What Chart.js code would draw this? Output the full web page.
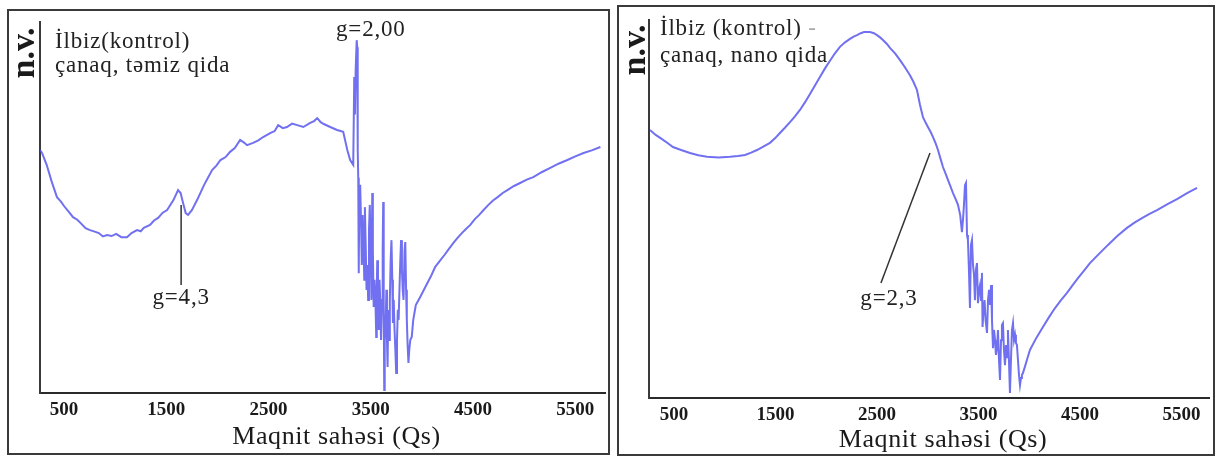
<!DOCTYPE html>
<html>
<head>
<meta charset="utf-8">
<script src="https://cdn.jsdelivr.net/npm/chart.js@4.4.1/dist/chart.umd.min.js"></script>
<style>
  html, body { margin: 0; padding: 0; background: #ffffff; }
  body { width: 1219px; height: 457px; position: relative; overflow: hidden; }
  .frame { position: absolute; border: 2px solid #3a3a3a; box-sizing: border-box; }
  .holder { position: absolute; }
</style>
</head>
<body>
<div class="frame" style="left:7px; top:9px; width:603px; height:446px;"></div>
<div class="frame" style="left:617px; top:5px; width:598px; height:451px;"></div>
<div class="holder" style="left:0px; top:0px; width:612px; height:457px;"><canvas id="c1"></canvas></div>
<div class="holder" style="left:612px; top:0px; width:607px; height:457px;"><canvas id="c2"></canvas></div>
<script>
// ---------- data (magnetic field in Qs, signal in relative units) ----------
const tickValues = [500, 1500, 2500, 3500, 4500, 5500];
const xTitle = 'Maqnit sahəsi (Qs)';
const yTitle = 'n.v.';

// Left: İlbiz (kontrol) – çanaq, təmiz qida
const leftField = [265, 285, 330, 380, 431, 470, 500, 545, 588, 630, 670, 710, 754, 800, 840, 880, 921, 965, 1010, 1060, 1116, 1160, 1214, 1250, 1280, 1341, 1380, 1420, 1465, 1508, 1570, 1615, 1640, 1664, 1690, 1713, 1750, 1801, 1870, 1948, 1990, 2030, 2080, 2124, 2170, 2222, 2260, 2290, 2349, 2400, 2447, 2520, 2560, 2594, 2640, 2680, 2730, 2780, 2840, 2907, 2945, 2976, 3010, 3040, 3103, 3170, 3230, 3270, 3298, 3328,
  3338, 3345, 3352, 3362, 3367, 3372, 3377, 3382, 3387, 3396, 3405, 3412, 3420, 3428, 3436, 3442, 3450, 3458, 3466, 3474, 3482, 3490, 3498, 3506, 3514, 3520, 3528, 3536, 3545, 3553, 3558, 3563, 3570, 3578, 3585, 3592, 3600, 3610, 3616, 3621, 3626, 3631, 3636, 3645, 3652, 3658, 3664, 3670, 3678, 3686, 3694, 3702, 3710, 3716, 3724, 3732, 3740, 3748, 3756, 3764, 3772, 3780, 3788, 3796, 3804, 3812, 3820, 3830, 3837, 3845, 3852, 3860, 3868, 3876, 3886, 3900, 3915, 3940, 3983,
  4052, 4090, 4130, 4175, 4220, 4262, 4306, 4348, 4390, 4430, 4473, 4515, 4560, 4605, 4650, 4695, 4740, 4790, 4835, 4900, 4960, 5025, 5089, 5170, 5250, 5335, 5422, 5500, 5580, 5660, 5745];
const leftSignal = [65.5, 64.7, 61.5, 56.9, 52.8, 51.6, 50.4, 48.9, 47.4, 46.7, 45.6, 44.4, 43.9, 43.5, 43.1, 42.2, 42.6, 42.3, 42.9, 42.0, 42.0, 43.1, 43.9, 43.6, 44.5, 45.3, 46.5, 47.2, 48.6, 49.3, 52.0, 54.7, 53.9, 51.2, 48.5, 48.0, 49.3, 52.0, 56.1, 60.1, 61.3, 62.8, 63.6, 65.0, 66.0, 68.2, 67.5, 66.8, 67.4, 68.1, 69.0, 70.1, 70.6, 72.2, 71.4, 71.7, 72.6, 72.2, 71.7, 72.8, 73.3, 74.1, 73.0, 72.5, 71.7, 70.9, 70.4, 65.5, 62.8, 61.5,
  85.2, 75.1, 87.3, 95.1, 93.2, 65.5, 58.0, 32.3, 52.0, 56.1, 45.3, 34.5, 48.0, 41.2, 30.5, 50.1, 39.9, 27.8, 34.5, 25.1, 43.9, 50.7, 38.5, 25.1, 53.9, 38.5, 23.2, 30.5, 25.1, 15.1, 27.8, 35.8, 25.1, 17.0, 30.5, 25.1, 14.3, 25.1, 38.5, 51.5, 25.1, 0.8, 14.3, 18.3, 27.8, 14.3, 7.0, 22.4, 14.3, 25.1, 35.8, 41.2, 30.5, 18.9, 25.1, 17.0, 11.6, 5.4, 14.3, 22.4, 19.7, 27.8, 35.3, 41.2, 33.2, 27.8, 25.1, 38.5, 40.7, 27.8, 19.7, 12.9, 8.1, 11.6, 14.3, 15.1, 19.7, 23.7, 25.9,
  29.6, 31.6, 34.0, 35.6, 37.2, 38.8, 40.4, 41.8, 43.1, 44.2, 45.3, 46.8, 48.0, 49.4, 50.7, 51.9, 52.8, 53.9, 54.7, 55.8, 56.6, 57.5, 58.2, 59.5, 60.6, 61.8, 62.8, 63.8, 64.7, 65.4, 66.3];

// Right: İlbiz (kontrol) – çanaq, nano qida
const rightField = [264, 320, 382, 440, 490, 570, 658, 740, 825, 940, 1052, 1130, 1200, 1260, 1318, 1380, 1446, 1495, 1544, 1593, 1643, 1692, 1741, 1790, 1840, 1889, 1938, 1988, 2037, 2086, 2135, 2185, 2234, 2270, 2303, 2340, 2372, 2431, 2470, 2500, 2530, 2559, 2600, 2628, 2680, 2727, 2775, 2825, 2860, 2894, 2924, 2953, 2980, 3002, 3030, 3052, 3080, 3101, 3125, 3150, 3175, 3199, 3225, 3249, 3275, 3298,
  3320, 3337, 3347, 3357, 3367, 3377, 3387, 3396, 3406, 3416, 3426, 3436, 3446, 3456, 3465, 3475, 3485, 3495, 3505, 3515, 3525, 3534, 3540, 3550, 3560, 3570, 3584, 3594, 3604, 3614, 3624, 3633, 3643, 3653, 3663, 3672, 3682, 3692, 3702, 3712, 3722, 3731, 3741, 3751, 3761, 3771, 3781, 3790, 3800, 3810, 3820, 3830, 3840, 3850, 3860, 3869, 3879, 3889, 3899, 3909, 3919, 3928, 3938, 3960, 3985,
  4007, 4070, 4135, 4195, 4254, 4313, 4372, 4426, 4480, 4540, 4598, 4690, 4776, 4870, 4963, 5037, 5111, 5185, 5259, 5358, 5456, 5555, 5653];
const rightSignal = [70.9, 69.6, 68.5, 67.4, 66.4, 65.6, 64.8, 64.2, 63.8, 63.6, 63.8, 64.0, 64.3, 64.9, 65.6, 66.5, 67.5, 68.7, 70.1, 71.5, 73.0, 74.5, 76.2, 78.2, 80.4, 82.7, 84.9, 87.2, 89.2, 91.2, 92.9, 94.1, 95.0, 95.6, 96.0, 96.5, 96.8, 96.8, 96.5, 96.0, 95.4, 94.7, 93.6, 92.6, 91.1, 89.4, 87.5, 85.4, 83.6, 81.5, 77.5, 74.3, 72.8, 71.7, 70.3, 69.0, 67.2, 65.6, 63.4, 61.1, 59.4, 57.7, 55.9, 54.2, 52.6, 51.1,
  48.4, 43.9, 47.1, 51.1, 56.3, 56.9, 43.1, 41.8, 33.9, 23.8, 40.5, 41.8, 35.2, 32.5, 25.9, 33.9, 35.7, 25.1, 28.6, 29.9, 25.9, 33.1, 18.8, 23.3, 25.9, 20.6, 17.2, 25.9, 28.6, 24.6, 29.9, 20.6, 13.2, 18.0, 15.3, 11.4, 13.2, 18.0, 10.1, 4.8, 15.3, 19.3, 19.8, 12.7, 8.7, 14.0, 10.8, 18.0, 10.1, 1.3, 10.1, 18.0, 19.8, 15.3, 16.7, 14.6, 14.0, 10.1, 6.1, 3.4, 5.3, 6.1, 6.6, 8.5, 10.8,
  12.7, 15.9, 18.8, 21.4, 23.8, 25.9, 27.8, 29.8, 31.7, 33.7, 35.7, 38.2, 40.5, 42.9, 45.0, 46.4, 47.6, 48.7, 49.7, 51.2, 52.6, 54.2, 55.6];

// leader lines for g-factor labels
const leftLeaderField = [1645, 1645];
const leftLeaderSignal = [50.7, 29.1];
const rightLeaderField = [3022, 2539];
const rightLeaderSignal = [64.8, 30.4];

// text annotations [text, field, signal, align]
const leftNotes = [
  ['İlbiz(kontrol)', 412, 93.0, 'left'],
  ['çanaq, təmiz qida', 412, 86.5, 'left'],
  ['g=2,00', 3500, 96.2, 'center'],
  ['g=4,3', 1645, 24.0, 'center']
];
const rightNotes = [
  ['İlbiz (kontrol)', 362, 96.0, 'left'],
  ['çanaq, nano qida', 362, 88.9, 'left'],
  ['g=2,3', 2618, 24.5, 'center']
];

// ---------- rendering ----------
const SERIF = '"Liberation Serif", "Times New Roman", serif';
const lineColor = 'rgba(80, 80, 238, 0.82)';

function pts(xs, ys) { return xs.map((x, i) => ({ x: x, y: ys[i] })); }

const notesPlugin = {
  id: 'notes',
  afterDatasetsDraw(chart, args, opts) {
    const ctx = chart.ctx;
    const xs = chart.scales.x, ys = chart.scales.y;
    const ca = chart.chartArea;
    ctx.save();
    ctx.fillStyle = '#222';
    ctx.font = opts.fontSize + 'px ' + SERIF;
    ctx.letterSpacing = '0.8px';
    ctx.textBaseline = 'alphabetic';
    opts.notes.forEach(n => {
      ctx.textAlign = n[3];
      const px = xs.getPixelForValue(n[1]);
      const py = ys.getPixelForValue(n[2]);
      ctx.fillText(n[0], px, py);
      if (opts.dash && n[0] === 'İlbiz (kontrol)') {
        const w = ctx.measureText(n[0]).width;
        ctx.fillStyle = '#aaa';
        ctx.fillText(' -', px + w, py);
        ctx.fillStyle = '#222';
      }
    });
    // x-axis title
    ctx.font = '26px ' + SERIF;
    ctx.letterSpacing = '0.6px';
    ctx.textAlign = 'center';
    ctx.textBaseline = 'middle';
    ctx.fillStyle = '#1a1a1a';
    ctx.fillText(xTitle, (ca.left + ca.right) / 2 + opts.titleShift, opts.titleY);
    // rotated y-axis label
    ctx.letterSpacing = '0px';
    ctx.font = 'bold ' + opts.yFont + 'px ' + SERIF;
    ctx.translate(ca.left - opts.yOffX, opts.yCenter);
    ctx.rotate(-Math.PI / 2);
    ctx.fillText(yTitle, 0, 0);
    ctx.restore();
  }
};

function makeChart(id, xs, ys, lx, ly, notes, cfg) {
  return new Chart(document.getElementById(id), {
    type: 'line',
    data: {
      datasets: [
        { data: pts(xs, ys), borderColor: lineColor, borderWidth: 2, pointRadius: 0, tension: 0, fill: false },
        { data: pts(lx, ly), borderColor: '#333', borderWidth: 1.5, pointRadius: 0, tension: 0, fill: false, clip: false }
      ]
    },
    options: {
      responsive: true,
      maintainAspectRatio: false,
      animation: false,
      events: [],
      layout: { padding: { left: cfg.padLeft, top: cfg.padTop, right: cfg.padRight, bottom: 0 } },
      plugins: {
        legend: { display: false },
        tooltip: { enabled: false },
        notes: { notes: notes, fontSize: 23, yFont: 34, yOffX: cfg.yOffX, yCenter: cfg.yCenter, dash: cfg.dash,
                 titleShift: 14, titleY: cfg.titleY }
      },
      scales: {
        x: {
          type: 'linear',
          min: cfg.xmin, max: cfg.xmax,
          afterBuildTicks: s => { s.ticks = tickValues.map(v => ({ value: v })); },
          afterFit: s => { s.height = cfg.xAxisH; },
          grid: { display: false, drawTicks: false },
          border: { display: true, color: '#2a2a2a', width: 2 },
          ticks: { color: '#1a1a1a', padding: cfg.tickPad, maxRotation: 0, autoSkip: false,
                   font: { family: SERIF, size: 19, weight: 'bold' },
                   callback: v => String(v) },
          title: { display: false }
        },
        y: {
          type: 'linear', min: 0, max: 100,
          afterFit: s => { s.width = 0; },
          grid: { display: false, drawTicks: false },
          border: { display: true, color: '#3a3a3a', width: 2 },
          ticks: { display: false }
        }
      }
    },
    plugins: [notesPlugin]
  });
}

makeChart('c1', leftField, leftSignal, leftLeaderField, leftLeaderSignal, leftNotes,
  { xmin: 265, xmax: 5790, padLeft: 40, padTop: 22, padRight: 7, xAxisH: 64, tickPad: 6, titleY: 437, yOffX: 15, yCenter: 53, dash: false });
makeChart('c2', rightField, rightSignal, rightLeaderField, rightLeaderSignal, rightNotes,
  { xmin: 254, xmax: 5771, padLeft: 37, padTop: 20, padRight: 10, xAxisH: 59, tickPad: 6, titleY: 440, yOffX: 13, yCenter: 50, dash: true });
</script>
</body>
</html>
